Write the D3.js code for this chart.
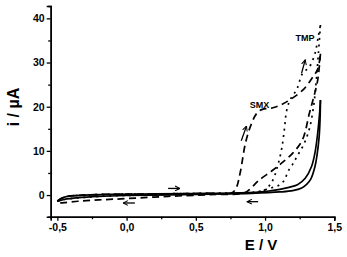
<!DOCTYPE html>
<html lang="en">
<head>
<meta charset="UTF-8"/>
<title>Cyclic voltammograms</title>
<script src="https://d3js.org/d3.v7.min.js"></script>
<style>
	body { margin: 0; background: #fff; }
	text { font-family: Arial, "Liberation Sans", sans-serif; font-weight: bold; fill: #000; }
</style>
</head>
<body>
<script>
	// blank electrolyte (solid), forward and reverse sweep, [E (V), i (uA)]
	var blankForward = [[-0.5,-1.4],[-0.48,-0.9],[-0.45,-0.5],[-0.4,-0.2],[-0.3,0],[-0.1,0.15],[0.2,0.25],
		[0.5,0.35],[0.8,0.5],[1.0,0.8],[1.107,1.3],[1.18,1.8],[1.237,2.4],[1.29,3.8],[1.335,6.4],
		[1.36,9.5],[1.38,14],[1.395,19],[1.4,21.5]];
	var blankReverse = [[1.4,21.5],[1.397,17],[1.39,13],[1.375,9],[1.36,6.4],[1.33,3.6],[1.3,2.4],
		[1.265,1.6],[1.2,1.0],[1.107,0.7],[0.9,0.4],[0.6,0.2],[0.3,0.05],[0,-0.1],[-0.2,-0.3],
		[-0.35,-0.6],[-0.45,-1.0],[-0.5,-1.4]];

	// SMX (dashed)
	var smxForward = [[-0.5,-1.4],[-0.45,-0.5],[-0.3,0],[0.2,0.25],[0.6,0.4],[0.76,0.5],[0.79,1.5],
		[0.82,5],[0.86,12],[0.9,16],[0.94,18.5],[0.98,19.4],[1.05,19.7],[1.12,20.5],[1.2,22],
		[1.28,24],[1.34,26.5],[1.38,28.5],[1.4,32]];
	var smxReverse = [[1.4,32],[1.38,26],[1.35,22],[1.32,18.5],[1.27,12.5],[1.2,9.5],[1.13,7.5],
		[1.05,5.5],[0.95,3.2],[0.9,1.6],[0.85,0.5],[0.6,0.1],[0.3,-0.3],[0,-0.8],[-0.2,-1.1],
		[-0.35,-1.4],[-0.45,-1.7],[-0.5,-1.8]];

	// TMP (dotted)
	var tmpForward = [[-0.5,-1.4],[-0.45,-0.5],[-0.3,0],[0.2,0.25],[0.7,0.45],[0.95,0.6],[1.0,1.2],
		[1.05,3],[1.09,6.5],[1.12,10.5],[1.14,15],[1.155,19],[1.18,21.5],[1.23,24],[1.27,27.5],
		[1.32,29],[1.36,32],[1.385,36],[1.4,38.5]];
	var tmpReverse = [[1.4,38.5],[1.385,32],[1.37,26],[1.35,20],[1.32,15],[1.28,11.5],[1.23,8.7],
		[1.2,7],[1.165,5.3],[1.14,3.4],[1.1,2.2],[1.03,1.5],[0.95,0.8],[0.8,0.4],[0.5,0.2],
		[0.2,0.05],[-0.2,-0.3],[-0.45,-1.0],[-0.5,-1.4]];

	// sweep direction arrows [E1, i1, E2, i2]
	var arrows = [[0.30,1.5,0.385,1.5],[0.06,-1.8,-0.025,-1.8],[0.95,-1.5,0.87,-1.5],
		[0.828,12.3,0.866,15.6],[1.264,27.6,1.29,30.6]];
	var labels = [["SMX",0.89,19.8],["TMP",1.22,34.8]];

	var xTicks = [-0.5,0,0.5,1.0,1.5];
	var xMinor = [-0.25,0.25,0.75,1.25];
	var yTicks = [0,10,20,30,40];
	var yMinor = [5,15,25,35];

	var w = 347, h = 257;
	var svg = d3.select("body").append("svg").attr("width", w).attr("height", h);

	var xScale = d3.scaleLinear().domain([-0.548, 1.5]).range([50.7, 334.3]);
	var yScale = d3.scaleLinear().domain([-4.9, 42.8]).range([216.7, 6]);

	var fmt = function(d){ return d3.format(".1f")(d).replace(".", ",").replace("\u2212", "-"); };

	var xAxis = d3.axisBottom(xScale).tickValues(xTicks).tickSize(4).tickPadding(3).tickFormat(fmt);
	var xAxisMinor = d3.axisBottom(xScale).tickValues(xMinor).tickSize(2.5).tickFormat("");
	var yAxis = d3.axisLeft(yScale).tickValues(yTicks).tickSize(4).tickPadding(2).tickFormat(d3.format("d"));
	var yAxisMinor = d3.axisLeft(yScale).tickValues(yMinor).tickSize(2.5).tickFormat("");

	function styleAxis(g) {
		g.selectAll("path").attr("stroke-width", 1.5);
		g.selectAll("line").attr("stroke-width", 1.3);
		g.selectAll("text").attr("font-size", "10.5px").attr("font-weight", "bold").attr("font-family", "Arial, 'Liberation Sans', sans-serif");
	}

	svg.append("g").attr("transform", "translate(0," + 216.7 + ")").call(xAxisMinor).call(styleAxis);
	svg.append("g").attr("transform", "translate(0," + 216.7 + ")").call(xAxis).call(styleAxis);
	svg.append("g").attr("transform", "translate(" + 50.7 + ",0)").call(yAxisMinor).call(styleAxis);
	svg.append("g").attr("transform", "translate(" + 50.7 + ",0)").call(yAxis).call(styleAxis);

	// axis titles
	svg.append("text").attr("x", 261).attr("y", 250).attr("text-anchor", "middle")
		.attr("font-size", "15px").text("E / V");
	svg.append("text").attr("transform", "translate(19,107) rotate(-90)").attr("text-anchor", "middle")
		.attr("font-size", "16px").text("i / \u00b5A");

	var line = d3.line()
		.x(function(d){ return xScale(d[0]); })
		.y(function(d){ return yScale(d[1]); })
		.curve(d3.curveCatmullRom.alpha(0.5));

	var curves = [
		{ data: blankForward, dash: null },
		{ data: blankReverse, dash: null },
		{ data: smxForward, dash: "7,4.5" },
		{ data: smxReverse, dash: "7,4.5" },
		{ data: tmpForward, dash: "2,4.5" },
		{ data: tmpReverse, dash: "2,4.5" }
	];

	svg.selectAll("path.cv")
		.data(curves)
		.enter()
		.append("path")
		.attr("class", "cv")
		.attr("d", function(d){ return line(d.data); })
		.attr("fill", "none")
		.attr("stroke", "#000")
		.attr("stroke-width", 1.7)
		.attr("stroke-dasharray", function(d){ return d.dash; });

	svg.append("defs").append("marker")
		.attr("id", "head")
		.attr("viewBox", "0 -5 10 10")
		.attr("refX", 9).attr("refY", 0)
		.attr("markerWidth", 6).attr("markerHeight", 6)
		.attr("markerUnits", "userSpaceOnUse")
		.attr("orient", "auto")
		.append("path")
		.attr("d", "M1,-4L9,0L1,4")
		.attr("fill", "none")
		.attr("stroke", "#000")
		.attr("stroke-width", 1.7);

	svg.selectAll("line.arrow")
		.data(arrows)
		.enter()
		.append("line")
		.attr("class", "arrow")
		.attr("x1", function(d){ return xScale(d[0]); })
		.attr("y1", function(d){ return yScale(d[1]); })
		.attr("x2", function(d){ return xScale(d[2]); })
		.attr("y2", function(d){ return yScale(d[3]); })
		.attr("stroke", "#000")
		.attr("stroke-width", 1.3)
		.attr("marker-end", "url(#head)");

	svg.selectAll("text.lab")
		.data(labels)
		.enter()
		.append("text")
		.attr("class", "lab")
		.attr("x", function(d){ return xScale(d[1]); })
		.attr("y", function(d){ return yScale(d[2]); })
		.attr("font-size", "9px")
		.text(function(d){ return d[0]; });
</script>
</body>
</html>
